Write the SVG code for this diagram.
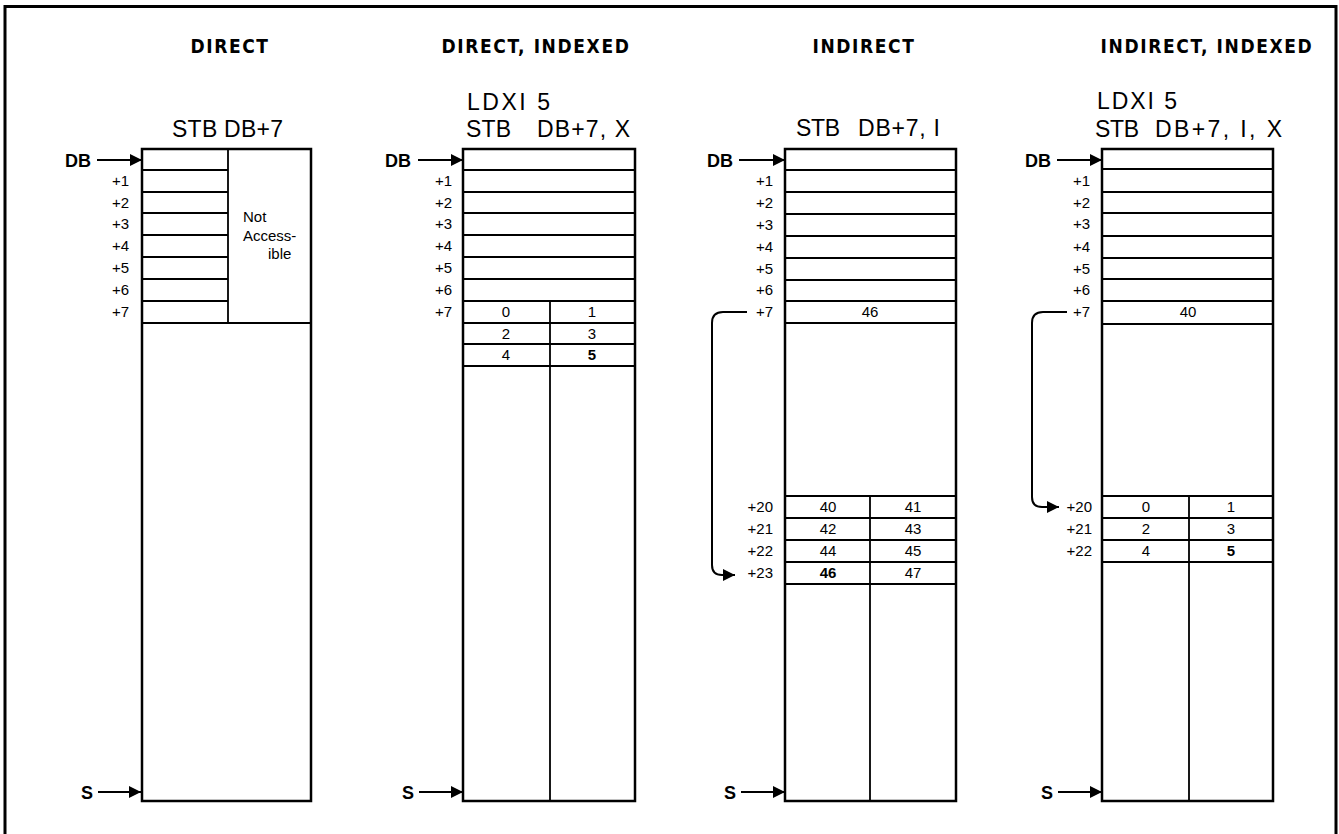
<svg xmlns="http://www.w3.org/2000/svg" width="1339" height="834" viewBox="0 0 1339 834">
<style>
.frame{fill:none;stroke:#000;stroke-width:3}
.box{fill:#fff;stroke:#000;stroke-width:2.5}
.ln{stroke:#000;stroke-width:1.8;fill:none}
.title{font-family:"DejaVu Sans Condensed","DejaVu Sans",sans-serif;font-weight:bold;font-size:19px;letter-spacing:1.6px;text-anchor:middle}
.cmd{font-family:"Liberation Sans",Arial,sans-serif;font-size:23px}
.lbl{font-family:"Liberation Sans",Arial,sans-serif;font-size:15px;text-anchor:end}
.num{font-family:"Liberation Sans",Arial,sans-serif;font-size:15px;text-anchor:middle}
.b{font-weight:bold}
.ptr{font-family:"Liberation Sans",Arial,sans-serif;font-size:18px;font-weight:bold}
.na{font-family:"Liberation Sans",Arial,sans-serif;font-size:15px}
.conn{stroke:#000;stroke-width:2;fill:none;marker-end:url(#ah)}
</style>
<defs>
<marker id="ah" markerWidth="13" markerHeight="13" refX="12" refY="6.5" orient="auto" markerUnits="userSpaceOnUse">
<path d="M0,0.5 L12,6.5 L0,12.5 Z" fill="#000"/>
</marker>
</defs>
<rect width="1339" height="834" fill="#fff"/>
<rect class="frame" x="5" y="6.5" width="1331" height="850"/>

<g id="panel-direct">
<text class="title" x="230" y="53">DIRECT</text>
<text class="cmd" x="172" y="137" textLength="111" lengthAdjust="spacing">STB DB+7</text>
<rect class="box" x="142" y="149" width="169" height="652"/>
<path class="ln" d="M142,170H228M142,192H228M142,213H228M142,235H228M142,257H228M142,279H228M142,301H228M142,323H311M228,149V323"/>
<text class="na" x="243" y="222">Not</text>
<text class="na" x="243" y="241">Access-</text>
<text class="na" x="268" y="259">ible</text>
<text class="lbl" x="129" y="186">+1</text>
<text class="lbl" x="129" y="208">+2</text>
<text class="lbl" x="129" y="229">+3</text>
<text class="lbl" x="129" y="251">+4</text>
<text class="lbl" x="129" y="273">+5</text>
<text class="lbl" x="129" y="295">+6</text>
<text class="lbl" x="129" y="317">+7</text>
<text class="ptr" x="65" y="167">DB</text>
<text class="ptr" x="81" y="799">S</text>
</g>

<g id="panel-direct-indexed">
<text class="title" x="536" y="53">DIRECT, INDEXED</text>
<text class="cmd" x="467" y="110" textLength="83" lengthAdjust="spacing">LDXI 5</text>
<text class="cmd" x="466" y="137" textLength="45" lengthAdjust="spacing">STB</text>
<text class="cmd" x="537" y="137" textLength="93" lengthAdjust="spacing">DB+7, X</text>
<rect class="box" x="463" y="149" width="172" height="652"/>
<path class="ln" d="M463,170H635M463,192H635M463,213H635M463,235H635M463,257H635M463,279H635M463,301H635M463,323H635M463,344H635M463,366H635M550,301V801"/>
<text class="lbl" x="452" y="186">+1</text>
<text class="lbl" x="452" y="208">+2</text>
<text class="lbl" x="452" y="229">+3</text>
<text class="lbl" x="452" y="251">+4</text>
<text class="lbl" x="452" y="273">+5</text>
<text class="lbl" x="452" y="295">+6</text>
<text class="lbl" x="452" y="317">+7</text>
<text class="num" x="506" y="317">0</text>
<text class="num" x="592" y="317">1</text>
<text class="num" x="506" y="339">2</text>
<text class="num" x="592" y="339">3</text>
<text class="num" x="506" y="360">4</text>
<text class="num b" x="592" y="360">5</text>
<text class="ptr" x="385" y="167">DB</text>
<text class="ptr" x="402" y="799">S</text>
</g>

<g id="panel-indirect">
<text class="title" x="864" y="53">INDIRECT</text>
<text class="cmd" x="796" y="136" textLength="44" lengthAdjust="spacing">STB</text>
<text class="cmd" x="858" y="136" textLength="82" lengthAdjust="spacing">DB+7, I</text>
<rect class="box" x="785" y="149" width="171" height="652"/>
<path class="ln" d="M785,170H956M785,192H956M785,214H956M785,236H956M785,258H956M785,280H956M785,301H956M785,323H956M785,496H956M785,518H956M785,540H956M785,562H956M785,584H956M870,496V801"/>
<text class="lbl" x="773" y="186">+1</text>
<text class="lbl" x="773" y="208">+2</text>
<text class="lbl" x="773" y="230">+3</text>
<text class="lbl" x="773" y="252">+4</text>
<text class="lbl" x="773" y="274">+5</text>
<text class="lbl" x="773" y="295">+6</text>
<text class="lbl" x="773" y="317">+7</text>
<text class="num" x="870" y="317">46</text>
<text class="lbl" x="773" y="512">+20</text>
<text class="lbl" x="773" y="534">+21</text>
<text class="lbl" x="773" y="556">+22</text>
<text class="lbl" x="773" y="578">+23</text>
<text class="num" x="828" y="512">40</text>
<text class="num" x="913" y="512">41</text>
<text class="num" x="828" y="534">42</text>
<text class="num" x="913" y="534">43</text>
<text class="num" x="828" y="556">44</text>
<text class="num" x="913" y="556">45</text>
<text class="num b" x="828" y="578">46</text>
<text class="num" x="913" y="578">47</text>
<text class="ptr" x="707" y="167">DB</text>
<text class="ptr" x="724" y="799">S</text>
</g>

<g id="panel-indirect-indexed">
<text class="title" x="1207" y="53">INDIRECT, INDEXED</text>
<text class="cmd" x="1097" y="109" textLength="80" lengthAdjust="spacing">LDXI 5</text>
<text class="cmd" x="1095" y="137" textLength="44" lengthAdjust="spacing">STB</text>
<text class="cmd" x="1155" y="137" textLength="127" lengthAdjust="spacing">DB+7, I, X</text>
<rect class="box" x="1102" y="149" width="171" height="652"/>
<path class="ln" d="M1102,169H1273M1102,192H1273M1102,213H1273M1102,236H1273M1102,258H1273M1102,279H1273M1102,301H1273M1102,324H1273M1102,496H1273M1102,518H1273M1102,540H1273M1102,562H1273M1189,496V801"/>
<text class="lbl" x="1090" y="186">+1</text>
<text class="lbl" x="1090" y="208">+2</text>
<text class="lbl" x="1090" y="229">+3</text>
<text class="lbl" x="1090" y="252">+4</text>
<text class="lbl" x="1090" y="274">+5</text>
<text class="lbl" x="1090" y="295">+6</text>
<text class="lbl" x="1090" y="317">+7</text>
<text class="num" x="1188" y="317">40</text>
<text class="lbl" x="1092" y="512">+20</text>
<text class="lbl" x="1092" y="534">+21</text>
<text class="lbl" x="1092" y="556">+22</text>
<text class="num" x="1146" y="512">0</text>
<text class="num" x="1231" y="512">1</text>
<text class="num" x="1146" y="534">2</text>
<text class="num" x="1231" y="534">3</text>
<text class="num" x="1146" y="556">4</text>
<text class="num b" x="1231" y="556">5</text>
<text class="ptr" x="1025" y="167">DB</text>
<text class="ptr" x="1041" y="799">S</text>
</g>

<g id="connectors">
<path class="conn" d="M97,160H142"/>
<path class="conn" d="M98,792H141"/>
<path class="conn" d="M418,160H463"/>
<path class="conn" d="M419,792H463"/>
<path class="conn" d="M739,160H785"/>
<path class="conn" d="M741,792H785"/>
<path class="conn" d="M1057,160H1102"/>
<path class="conn" d="M1058,792H1102"/>
<path class="conn" d="M747,312H723Q712,312 712,323V565Q712,575 722,575H735"/>
<path class="conn" d="M1067,312H1043Q1032,312 1032,323V497Q1032,507 1042,507H1059"/>
</g>
</svg>
